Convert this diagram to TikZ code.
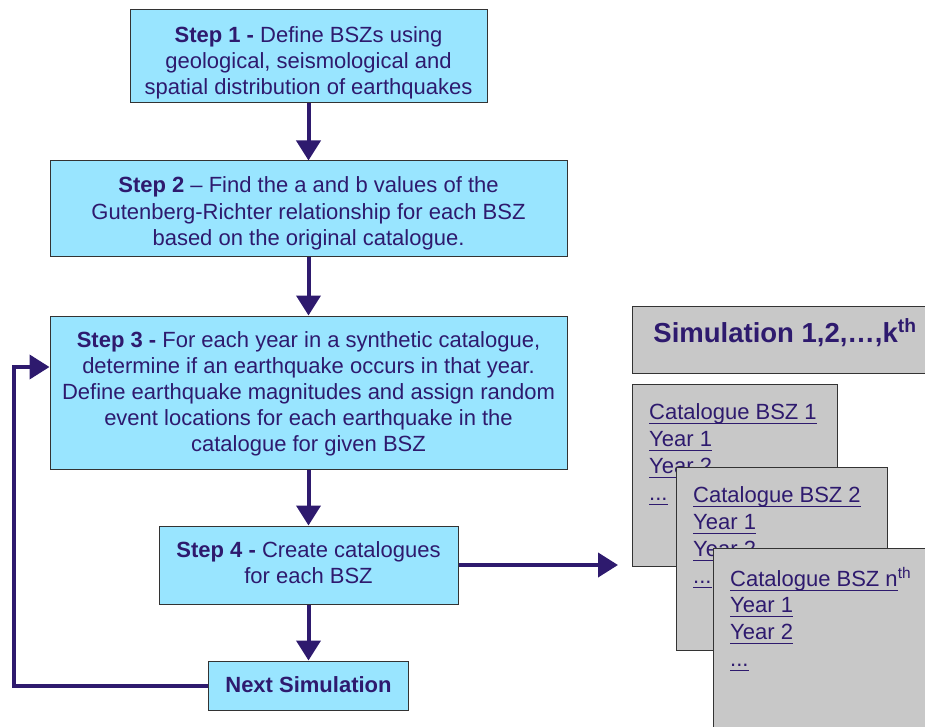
\documentclass[tikz,border=0pt]{standalone}
\usepackage{fontspec}
\setmainfont{Liberation Sans}
\usetikzlibrary{arrows.meta}
\definecolor{navy}{HTML}{2E1A6E}
\definecolor{boxblue}{HTML}{99E5FF}
\definecolor{boxgray}{HTML}{C8C8C8}
\newcommand{\ulx}[1]{\setbox0=\hbox{#1}\rlap{\rule[-5pt]{\wd0}{1.4pt}}\box0}
\begin{document}
\begin{tikzpicture}[x=1pt,y=-1pt,
  stepbox/.style={draw=black!80, line width=1pt, fill=boxblue, inner sep=0pt},
  steptext/.style={text=navy, align=center, anchor=base, inner sep=0pt,
    font=\fontsize{22}{26}\selectfont},
  graybox/.style={draw=black!80, line width=1pt, fill=boxgray, inner sep=0pt, anchor=north west},
  catline/.style={text=navy, anchor=base west, inner sep=0pt, font=\fontsize{22}{27}\selectfont},
  arr/.style={draw=navy, line width=4pt, -{Triangle[width=24pt,length=20pt]}}]
\useasboundingbox (0,0) rectangle (925,727);
\clip (0,0) rectangle (925,727);
% flow boxes (text anchored at the baseline of its last line)
\node[stepbox, minimum width=357pt, minimum height=93pt] (s1) at (308.5,56.5) {};
\node[steptext] (s1t) at (308.5,95)
  {\textbf{Step 1 -} Define BSZs using\\geological, seismological and\\spatial distribution of earthquakes};
\node[stepbox, minimum width=517pt, minimum height=95pt] (s2) at (308.5,208.5) {};
\node[steptext] (s2t) at (308.5,245)
  {\textbf{Step 2} -- Find the a and b values of the\\Gutenberg-Richter relationship for each BSZ\\based on the original catalogue.};
\node[stepbox, minimum width=517pt, minimum height=153pt] (s3) at (308.5,392.5) {};
\node[steptext] (s3t) at (308.5,451)
  {\textbf{Step 3 -} For each year in a synthetic catalogue,\\determine if an earthquake occurs in that year.\\Define earthquake magnitudes and assign random\\event locations for each earthquake in the\\catalogue for given BSZ};
\node[stepbox, minimum width=299pt, minimum height=78pt] (s4) at (308.5,565) {};
\node[steptext] (s4t) at (308.5,583)
  {\textbf{Step 4 -} Create catalogues\\for each BSZ};
\node[stepbox, minimum width=200pt, minimum height=49pt] (ns) at (308.5,685.5) {};
\node[steptext] (nst) at (308.5,692) {\textbf{Next Simulation}};
% arrows
\draw[arr] (s1.south) -- (s2.north);
\draw[arr] (s2.south) -- (s3.north);
\draw[arr] (s3.south) -- (s4.north);
\draw[arr] (s4.south) -- (ns.north);
\coordinate (lp) at (14,367);
\draw[arr] (ns.west) -| (lp) -- (s3.west |- lp);
% gray boxes
\node[graybox, minimum width=313pt, minimum height=67pt] (sim) at (632,306) {};
\node[text=navy, inner sep=0pt, anchor=base, font=\bfseries\fontsize{27.5}{30}\selectfont] (simt) at (785,342)
  {Simulation 1,2,…,k\textsuperscript{th}};
\node[graybox, minimum width=205pt, minimum height=182pt] (c1) at (632,384) {};
\node[catline] (c1a) at (649,419) {\ulx{Catalogue BSZ 1}};
\node[catline] (c1b) at (649,446) {\ulx{Year 1}};
\node[catline] (c1c) at (649,473) {\ulx{Year 2}};
\node[catline] (c1d) at (649,500) {\ulx{...}};
\node[graybox, minimum width=211pt, minimum height=183pt] (c2) at (676,467) {};
\node[catline] (c2a) at (693,502) {\ulx{Catalogue BSZ 2}};
\node[catline] (c2b) at (693,529) {\ulx{Year 1}};
\node[catline] (c2c) at (693,556) {\ulx{Year 2}};
\node[catline] (c2d) at (693,583) {\ulx{...}};
\node[graybox, minimum width=230pt, minimum height=200pt] (c3) at (713,548) {};
\node[catline] (c3a) at (730,586) {\ulx{Catalogue BSZ n}\textsuperscript{th}};
\node[catline] (c3b) at (730,612) {\ulx{Year 1}};
\node[catline] (c3c) at (730,639) {\ulx{Year 2}};
\node[catline] (c3d) at (730,666) {\ulx{...}};
\draw[arr, shorten >=14pt] (s4.east) -- (c1.west |- s4.east);
\end{tikzpicture}
\end{document}
